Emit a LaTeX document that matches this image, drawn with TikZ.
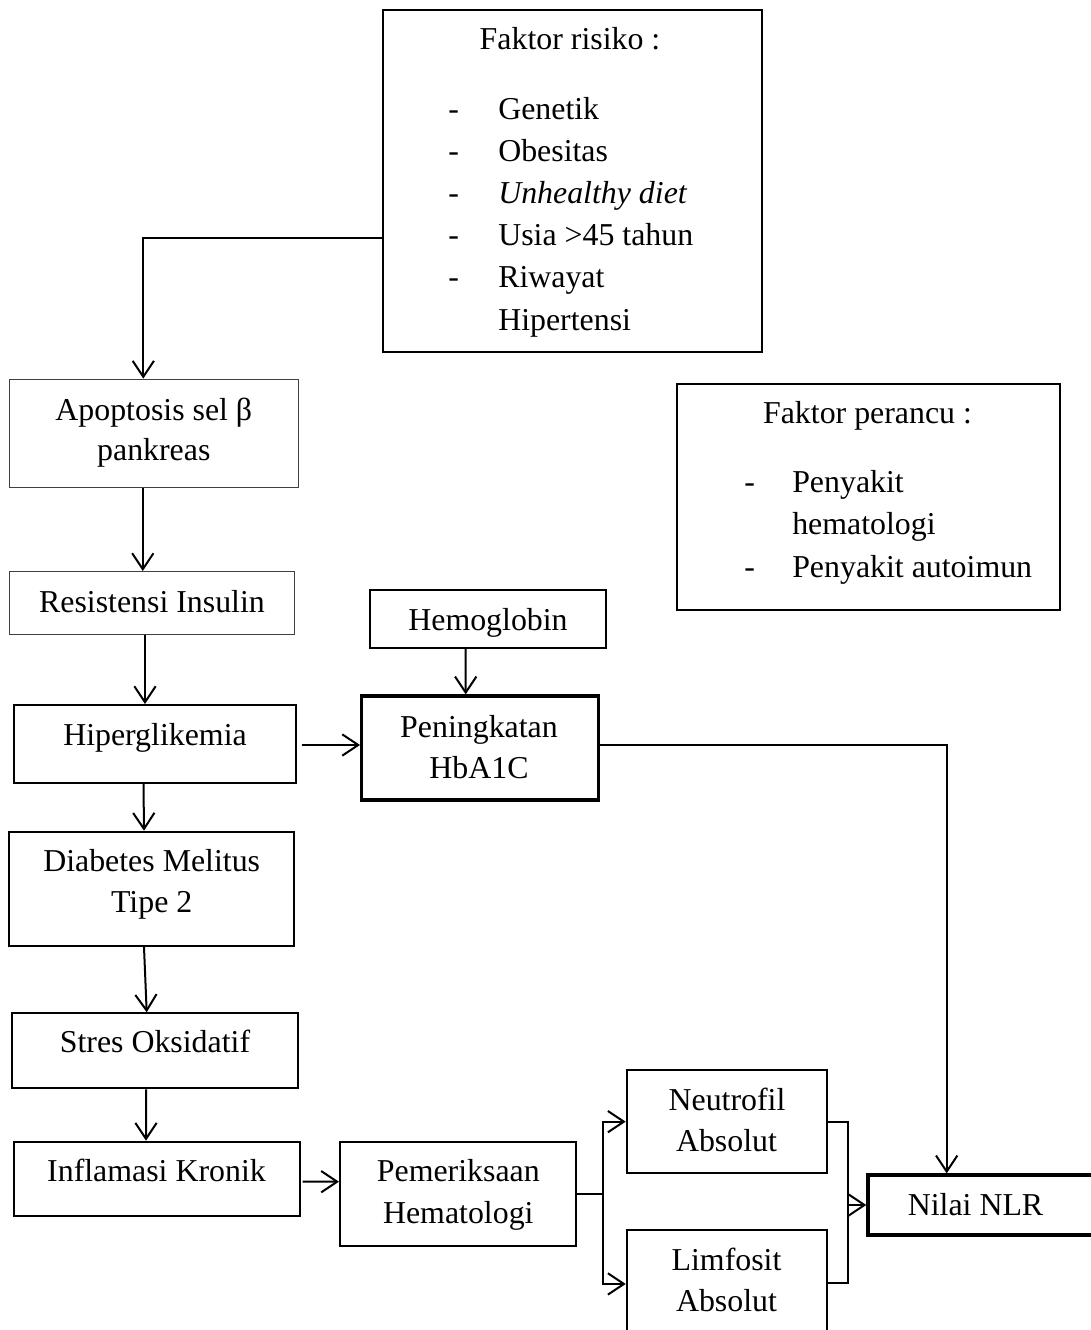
\documentclass[tikz,border=0pt]{standalone}
\usepackage{fontspec}
\setmainfont{Liberation Serif}
\usetikzlibrary{arrows.meta,calc,fit}
\begin{document}
\begin{tikzpicture}[x=0.75pt,y=-0.75pt,
  font=\fontsize{23.9pt}{31.7pt}\selectfont,
  box/.style={draw=black,line width=1.5pt,inner sep=0pt},
  thinbox/.style={draw=black!75,line width=1pt,inner sep=0pt},
  boldbox/.style={draw=black,line width=2.5pt,inner sep=0pt},
  txt/.style={inner sep=0pt,anchor=base},
  lst/.style={inner sep=0pt,anchor=base west},
  ln/.style={line width=1.5pt},
  arr/.style={line width=1.5pt,-{Straight Barb[length=12pt,width=16pt,line width=1.5pt]}}]
\path[fill=white,use as bounding box] (0,0) rectangle (1090,1330);

% boxes
\node[box,fit={(383.3,10) (761.7,351.7)}] (risk) {};
\node[thinbox,fit={(9.3,379.3) (298.3,487.7)}] (apop) {};
\node[thinbox,fit={(9.3,571.7) (294.3,634.3)}] (resis) {};
\node[box,fit={(370,590) (606,647.7)}] (hemo) {};
\node[box,fit={(14,705) (296,783)}] (hiper) {};
\node[boldbox,fit={(361.7,696) (598.3,800)}] (hba) {};
\node[box,fit={(9.3,831.7) (294.3,946)}] (dm) {};
\node[box,fit={(11.7,1013.3) (298.3,1088.3)}] (stres) {};
\node[box,fit={(14,1141.7) (300,1216)}] (infl) {};
\node[box,fit={(340,1142.3) (576,1246)}] (pem) {};
\node[box,fit={(626.7,1070) (826.7,1173.3)}] (neut) {};
\node[box,fit={(626.7,1230) (826.7,1333.3)}] (limf) {};
\node[boldbox,fit={(868,1175) (1100,1235)}] (nlr) {};
\node[box,fit={(677.3,384.3) (1060,610)}] (peran) {};

% texts
\node[txt] (t-risk) at (570,50) {Faktor risiko :};
\foreach \i/\t in {0/Genetik,1/Obesitas,2/{\textit{Unhealthy diet}},3/{Usia >45 tahun},4/Riwayat}{
  \node[lst] (rd\i) at (448,{119.3+42.15*\i}) {-};
  \node[lst] (rt\i) at (498,{119.3+42.15*\i}) {\t};
}
\node[lst] (rt5) at (498,330) {Hipertensi};

\node[txt] (t-apop1) at (153.8,420) {Apoptosis sel β};
\node[txt] (t-apop2) at (153.8,460) {pankreas};
\node[txt] (t-resis) at (152,612) {Resistensi Insulin};
\node[txt] (t-hemo) at (488,630) {Hemoglobin};
\node[txt] (t-hiper) at (155,745) {Hiperglikemia};
\node[txt] (t-hba1) at (479,737) {Peningkatan};
\node[txt] (t-hba2) at (479,778) {HbA1C};
\node[txt] (t-dm1) at (151.7,871.7) {Diabetes Melitus};
\node[txt] (t-dm2) at (151.7,912.7) {Tipe 2};
\node[txt] (t-stres) at (155,1052.7) {Stres Oksidatif};
\node[txt] (t-infl) at (156.5,1181) {Inflamasi Kronik};
\node[txt] (t-pem1) at (458.3,1181.7) {Pemeriksaan};
\node[txt] (t-pem2) at (458.3,1223.3) {Hematologi};
\node[txt] (t-neut1) at (727,1110) {Neutrofil};
\node[txt] (t-neut2) at (726.5,1151.7) {Absolut};
\node[txt] (t-limf1) at (726.5,1270) {Limfosit};
\node[txt] (t-limf2) at (726.5,1311.7) {Absolut};
\node[txt] (t-nlr) at (975.5,1215) {Nilai NLR};

\node[txt] (t-peran) at (867.5,423) {Faktor perancu :};
\node[lst] (pd0) at (744,492) {-};
\node[lst] (pt0) at (792,492) {Penyakit};
\node[lst] (pt1) at (792,534) {hematologi};
\node[lst] (pd2) at (744,577) {-};
\node[lst] (pt2) at (792,577) {Penyakit autoimun};

% connectors
\draw[arr] ($(risk.west)+(0,56.85)$) -| ($(apop.north)+(-10.5,0)$);
\draw[arr] ($(apop.south)+(-11,0)$) -- ($(resis.north)+(-9,0)$);
\draw[arr] ($(resis.south)+(-6.8,0)$) -- ($(hiper.north)+(-10,0)$);
\draw[arr] ($(hemo.south)+(-22.3,0)$) -- ($(hba.north)+(-14.3,0)$);
\draw[arr] ($(hiper.east)+(4.7,1)$) -- ($(hba.west)+(0,-3)$);
\draw[arr] ($(hba.east)+(0,-3)$) -| ($(nlr.north)+(-37.3,0)$);
\draw[arr] ($(hiper.south)+(-11.5,0)$) -- ($(dm.north)+(-7.8,0)$);
\draw[arr] ($(dm.south)+(-7.8,0)$) -- ($(stres.north)+(-8.3,0)$);
\draw[arr] ($(stres.south)+(-9,0)$) -- ($(infl.north)+(-11,0)$);
\draw[arr] ($(infl.east)+(1.7,2.85)$) -- ($(pem.west)+(0,-12.45)$);
\coordinate (br) at ($(pem.east)+(25.7,0)$);
\draw[ln] (pem.east) -- (br);
\draw[arr] (br) |- (neut.west);
\draw[arr] (br) |- ($(limf.west)+(0,2.3)$);
\coordinate (jn) at ($(neut.east)+(20,0)$);
\draw[ln] (neut.east) -- (jn) |- ($(limf.east)+(0,1.6)$);
\draw[arr] (jn |- nlr.west) -- (nlr.west);
\end{tikzpicture}
\end{document}
